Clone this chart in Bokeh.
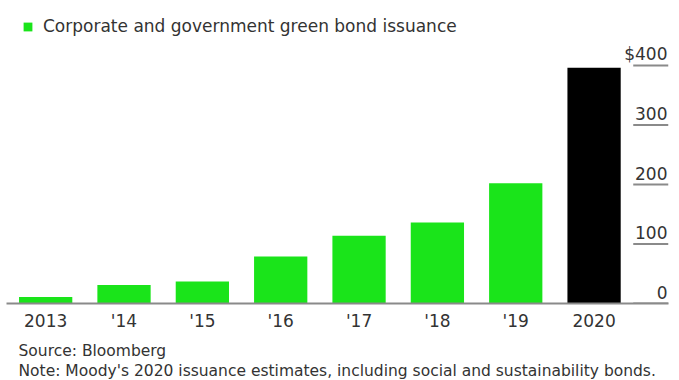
import numpy as np
from bokeh.plotting import figure
from bokeh.models import (ColumnDataSource, Range1d, FixedTicker, Legend,
                          LegendItem, Title)
from bokeh.core.properties import value
from bokeh.embed import file_html
from bokeh.resources import INLINE

# ---- data ----
years = ["2013", "'14", "'15", "'16", "'17", "'18", "'19", "2020"]
issuance = [11, 31, 37, 79, 114, 136, 202, 396]   # $ billions
is_estimate = [False, False, False, False, False, False, False, True]
y_ticks = [0, 100, 200, 300, 400]
y_tick_labels = ["0", "100", "200", "300", "$400"]
legend_label = "Corporate and government green bond issuance"
source_note = "Source: Bloomberg"
note_text = "Note: Moody's 2020 issuance estimates, including social and sustainability bonds."

GREEN = "#1ae41a"
FONT = "DejaVu Sans"
TXT = "#333333"
GRAY = "#8a8a8a"

idx = np.arange(len(years))
colors = ["#000000" if e else GREEN for e in is_estimate]
src = ColumnDataSource(dict(x=idx, value=issuance, color=colors))

x_end = len(years) - 0.5 + 0.45          # room for the value-axis column
p = figure(x_range=Range1d(-0.5, x_end), y_range=Range1d(0, 509),
           frame_width=662, frame_height=303,
           output_backend="svg", toolbar_location=None,
           min_border_left=6, min_border_right=11, min_border_top=0,
           min_border_bottom=77, outline_line_color=None,
           background_fill_color="white", border_fill_color="white")

r = p.vbar(x="x", top="value", width=0.68, source=src,
           fill_color="color", line_color=None)

p.yaxis.visible = False
p.xgrid.visible = False
p.ygrid.visible = False

xa = p.xaxis[0]
xa.ticker = FixedTicker(ticks=list(idx))
xa.major_label_overrides = {int(i): y for i, y in zip(idx, years)}
xa.axis_line_color = GRAY
xa.axis_line_width = 2
xa.major_tick_line_color = None
xa.minor_tick_line_color = None
xa.major_label_standoff = 1
xa.major_label_text_font = FONT
xa.major_label_text_font_size = "17px"
xa.major_label_text_color = TXT

# value axis drawn at the right of the bars
tick_src = ColumnDataSource(dict(y=y_ticks, text=y_tick_labels))
p.segment(x0=len(years) - 0.5, x1=x_end, y0="y", y1="y", source=tick_src,
          line_color=GRAY, line_width=2)
p.text(x=x_end, y="y", text="text", source=tick_src, x_offset=-1, y_offset=-11,
       text_align="right", text_baseline="alphabetic", text_font=value(FONT),
       text_font_size="17px", text_color=TXT)

legend = Legend(items=[LegendItem(label=legend_label, renderers=[r], index=0)],
                location=(16, 267), orientation="horizontal",
                padding=0, margin=0, spacing=0, border_line_color=None,
                background_fill_alpha=0, glyph_width=11, glyph_height=11,
                label_height=11, label_standoff=10,
                label_text_font=FONT, label_text_font_size="17px",
                label_text_color=TXT)
p.add_layout(legend)

p.add_layout(Title(text=source_note + "\n" + note_text, align="left",
                   offset=12, standoff=13,
                   text_font=FONT, text_font_size="15.5px", text_font_style="normal",
                   text_line_height=1.1, text_color=TXT), "below")

open("out.html", "w").write(file_html(p, INLINE))
